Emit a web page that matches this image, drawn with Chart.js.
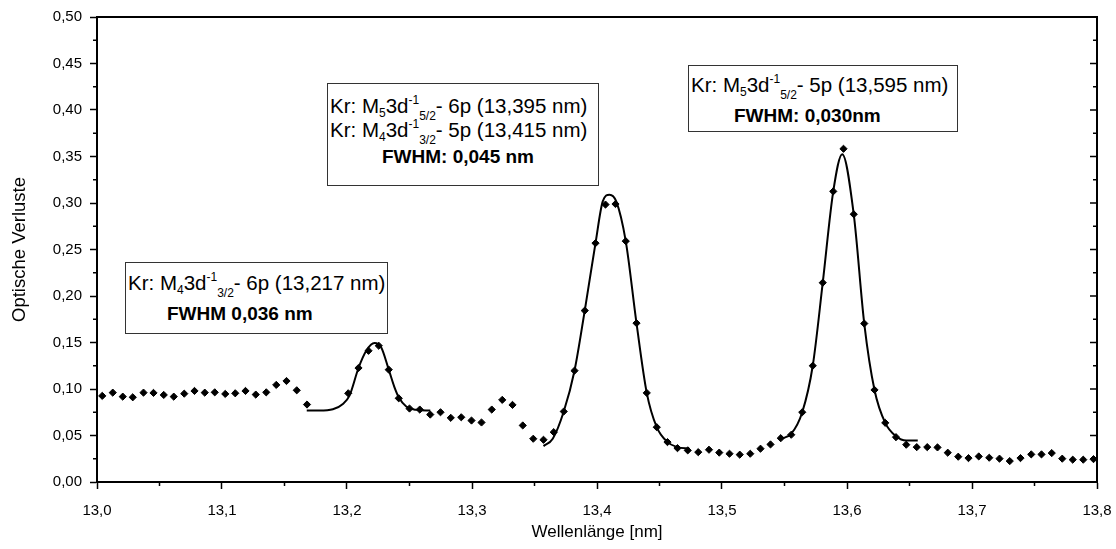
<!DOCTYPE html>
<html>
<head>
<meta charset="utf-8">
<script src="https://cdn.jsdelivr.net/npm/chart.js@4"></script>
<style>
  body { margin: 0; background: #fff; }
  #wrap { position: relative; width: 1116px; height: 549px; }
  .note { position: absolute; box-sizing: border-box; border: 1px solid #333; background: #fff;
          font-family: 'Liberation Sans', Arial, sans-serif; font-size: 20.5px; color: #000; }
  .ln { position: absolute; white-space: nowrap; line-height: 24px; }
  .ln.b { font-weight: bold; font-size: 19px; }
  .ln sub, .ln sup { font-size: 12px; line-height: 0; }
  .ln sub { vertical-align: -4px; }
  .ln sub.lo { vertical-align: -7px; }
  .ln sup { vertical-align: 9px; }
</style>
</head>
<body>
<div id="wrap">
  <canvas id="chart" width="1116" height="549"></canvas>

  <div class="note" style="left:125px;top:262px;width:263px;height:72px">
    <div class="ln" style="left:2px;top:8px">Kr: M<sub>4</sub>3d<sup>-1</sup><sub class="lo">3/2</sub>- 6p (13,217 nm)</div>
    <div class="ln b" style="left:41px;top:39px">FWHM 0,036 nm</div>
  </div>

  <div class="note" style="left:327px;top:83px;width:272px;height:103px">
    <div class="ln" style="left:2px;top:10px">Kr: M<sub>5</sub>3d<sup>-1</sup><sub class="lo">5/2</sub>- 6p (13,395 nm)</div>
    <div class="ln" style="left:2px;top:34px">Kr: M<sub>4</sub>3d<sup>-1</sup><sub class="lo">3/2</sub>- 5p (13,415 nm)</div>
    <div class="ln b" style="left:54px;top:61px">FWHM: 0,045 nm</div>
  </div>

  <div class="note" style="left:688px;top:65px;width:270px;height:67px">
    <div class="ln" style="left:2px;top:7px">Kr: M<sub>5</sub>3d<sup>-1</sup><sub class="lo">5/2</sub>- 5p (13,595 nm)</div>
    <div class="ln b" style="left:45px;top:38px">FWHM: 0,030nm</div>
  </div>
</div>

<script>
// measured points (wavelength in nm, optical losses)
const wavelength = [
  13.0042, 13.0126, 13.0206, 13.0286, 13.0372, 13.0452, 13.0534, 13.0614, 13.0698, 13.0780,
  13.0862, 13.0942, 13.1026, 13.1106, 13.1188, 13.1270, 13.1354, 13.1434, 13.1516, 13.1598,
  13.1680,
  13.2010, 13.2092, 13.2172, 13.2254, 13.2334, 13.2414, 13.2500, 13.2582, 13.2666, 13.2748,
  13.2830, 13.2914, 13.2996, 13.3076, 13.3158, 13.3242, 13.3324, 13.3406, 13.3490, 13.3572,
  13.3654, 13.3734, 13.3820, 13.3902, 13.3988, 13.4068, 13.4148, 13.4230, 13.4316, 13.4398,
  13.4478, 13.4564, 13.4644, 13.4726, 13.4810, 13.4896, 13.4978, 13.5060, 13.5142, 13.5226,
  13.5308, 13.5388, 13.5470, 13.5554, 13.5642, 13.5726, 13.5806, 13.5890, 13.5972, 13.6054,
  13.6138, 13.6220, 13.6306, 13.6392, 13.6474, 13.6558, 13.6642, 13.6724, 13.6806, 13.6890,
  13.6972, 13.7054, 13.7138, 13.7220, 13.7302, 13.7388, 13.7474, 13.7556, 13.7638, 13.7722,
  13.7806, 13.7890, 13.7972
];
const losses = [
  0.0926, 0.0961, 0.0918, 0.0911, 0.0961, 0.0958, 0.0936, 0.0918, 0.0950, 0.0979,
  0.0961, 0.0964, 0.0947, 0.0954, 0.0979, 0.0940, 0.0964, 0.1044, 0.1086, 0.0986,
  0.0833,
  0.0954, 0.1226, 0.1411, 0.1465, 0.1208, 0.0900, 0.0790, 0.0779, 0.0725, 0.0750,
  0.0690, 0.0696, 0.0661, 0.0640, 0.0779, 0.0883, 0.0829, 0.0608, 0.0465, 0.0454,
  0.0536, 0.0758, 0.1197, 0.1843, 0.2568, 0.2983, 0.2989, 0.2590, 0.1708, 0.0958,
  0.0589, 0.0429, 0.0364, 0.0340, 0.0321, 0.0347, 0.0316, 0.0304, 0.0294, 0.0304,
  0.0358, 0.0404, 0.0471, 0.0508, 0.0750, 0.1250, 0.2143, 0.3125, 0.3583, 0.2879,
  0.1704, 0.0990, 0.0636, 0.0482, 0.0401, 0.0375, 0.0375, 0.0372, 0.0315, 0.0272,
  0.0257, 0.0275, 0.0261, 0.0251, 0.0225, 0.0257, 0.0297, 0.0297, 0.0311, 0.0251,
  0.0240, 0.0240, 0.0246
];

// gauss fits
const fit1X = [13.1678, 13.1780, 13.1887, 13.1967, 13.2020, 13.2092, 13.2154, 13.2220, 13.2274, 13.2334, 13.2380, 13.2414, 13.2474, 13.2554, 13.2666];
const fit1Y = [0.0768, 0.0768, 0.0782, 0.0840, 0.0929, 0.1226, 0.1411, 0.1494, 0.1446, 0.1208, 0.1018, 0.0911, 0.0811, 0.0776, 0.0768];
const fit2X = [13.3572, 13.3646, 13.3734, 13.3820, 13.3902, 13.3988, 13.4046, 13.4100, 13.4154, 13.4230, 13.4316, 13.4398, 13.4478, 13.4564, 13.4644, 13.4740];
const fit2Y = [0.0386, 0.0465, 0.0758, 0.1197, 0.1843, 0.2568, 0.3018, 0.3090, 0.3018, 0.2590, 0.1708, 0.0958, 0.0589, 0.0429, 0.0375, 0.0358];
const fit3X = [13.5474, 13.5554, 13.5642, 13.5726, 13.5806, 13.5890, 13.5962, 13.6054, 13.6138, 13.6220, 13.6306, 13.6394, 13.6474, 13.6566];
const fit3Y = [0.0465, 0.0519, 0.0750, 0.1250, 0.2143, 0.3125, 0.3525, 0.2879, 0.1704, 0.0990, 0.0636, 0.0490, 0.0447, 0.0447];

const xMin = 13.0, xMax = 13.8, xStep = 0.1;
const yMin = 0, yMax = 0.5, yStep = 0.05;

Chart.defaults.font.family = "'Liberation Sans', Arial, sans-serif";
Chart.defaults.color = '#000';

function pairs(xs, ys) {
  return xs.map((v, i) => ({ x: v, y: ys[i] }));
}

function fitLine(xs, ys) {
  return {
    data: pairs(xs, ys),
    showLine: true,
    borderColor: '#000',
    borderWidth: 2,
    pointRadius: 0,
    cubicInterpolationMode: 'monotone',
    tension: 0.4,
    order: 1
  };
}

// minor ticks, top/right frame, inward ticks on the right
const frameTicks = {
  id: 'frameTicks',
  afterDraw(chart) {
    const { ctx, chartArea: a, scales: { x, y } } = chart;
    ctx.save();
    ctx.strokeStyle = '#000';
    ctx.lineWidth = 2;
    ctx.beginPath();
    ctx.moveTo(a.left, a.top);
    ctx.lineTo(a.right, a.top);
    ctx.lineTo(a.right, a.bottom);
    ctx.stroke();

    ctx.lineWidth = 1.5;
    ctx.beginPath();
    const xt = x.ticks.map(t => t.value);
    for (let i = 0; i < xt.length - 1; i++) {
      const px = x.getPixelForValue((xt[i] + xt[i + 1]) / 2);
      ctx.moveTo(px, a.bottom);
      ctx.lineTo(px, a.bottom + 4);
    }
    const yt = y.ticks.map(t => t.value);
    yt.forEach(v => {
      const py = y.getPixelForValue(v);
      ctx.moveTo(a.right, py);
      ctx.lineTo(a.right - 7, py);
    });
    for (let i = 0; i < yt.length - 1; i++) {
      const py = y.getPixelForValue((yt[i] + yt[i + 1]) / 2);
      ctx.moveTo(a.left, py);
      ctx.lineTo(a.left - 4, py);
      ctx.moveTo(a.right, py);
      ctx.lineTo(a.right - 4, py);
    }
    ctx.stroke();
    ctx.restore();
  }
};

new Chart(document.getElementById('chart'), {
  type: 'scatter',
  data: {
    datasets: [
      {
        data: pairs(wavelength, losses),
        pointStyle: 'rectRot',
        pointRadius: 3.6,
        pointBackgroundColor: '#000',
        pointBorderColor: '#000',
        pointBorderWidth: 1,
        showLine: false,
        order: 0
      },
      fitLine(fit1X, fit1Y),
      fitLine(fit2X, fit2Y),
      fitLine(fit3X, fit3Y)
    ]
  },
  options: {
    responsive: false,
    animation: false,
    layout: { padding: { left: 0, right: 19, top: 15, bottom: 0 } },
    plugins: {
      legend: { display: false },
      tooltip: { enabled: false }
    },
    scales: {
      x: {
        type: 'linear',
        min: xMin,
        max: xMax,
        afterFit: s => { s.height = 67; s.paddingLeft = 0; s.paddingRight = 0; },
        ticks: {
          stepSize: xStep,
          font: { size: 15 },
          padding: 13,
          maxRotation: 0,
          callback: v => v.toFixed(1).replace('.', ',')
        },
        grid: { drawOnChartArea: false, tickLength: 7, tickWidth: 1.5, tickColor: '#000' },
        border: { color: '#000', width: 2 },
        title: { display: true, text: 'Wellenlänge [nm]', font: { size: 17 }, padding: { top: 0, bottom: 6 } }
      },
      y: {
        min: yMin,
        max: yMax,
        afterFit: s => { s.width = 97; },
        ticks: {
          stepSize: yStep,
          font: { size: 15 },
          padding: 8,
          callback: v => v.toFixed(2).replace('.', ',')
        },
        grid: { drawOnChartArea: false, tickLength: 7, tickWidth: 1.5, tickColor: '#000' },
        border: { color: '#000', width: 2 },
        title: { display: true, text: 'Optische Verluste', font: { size: 18.5 }, padding: { top: 9, bottom: 0 } }
      }
    }
  },
  plugins: [frameTicks]
});
</script>
</body>
</html>
